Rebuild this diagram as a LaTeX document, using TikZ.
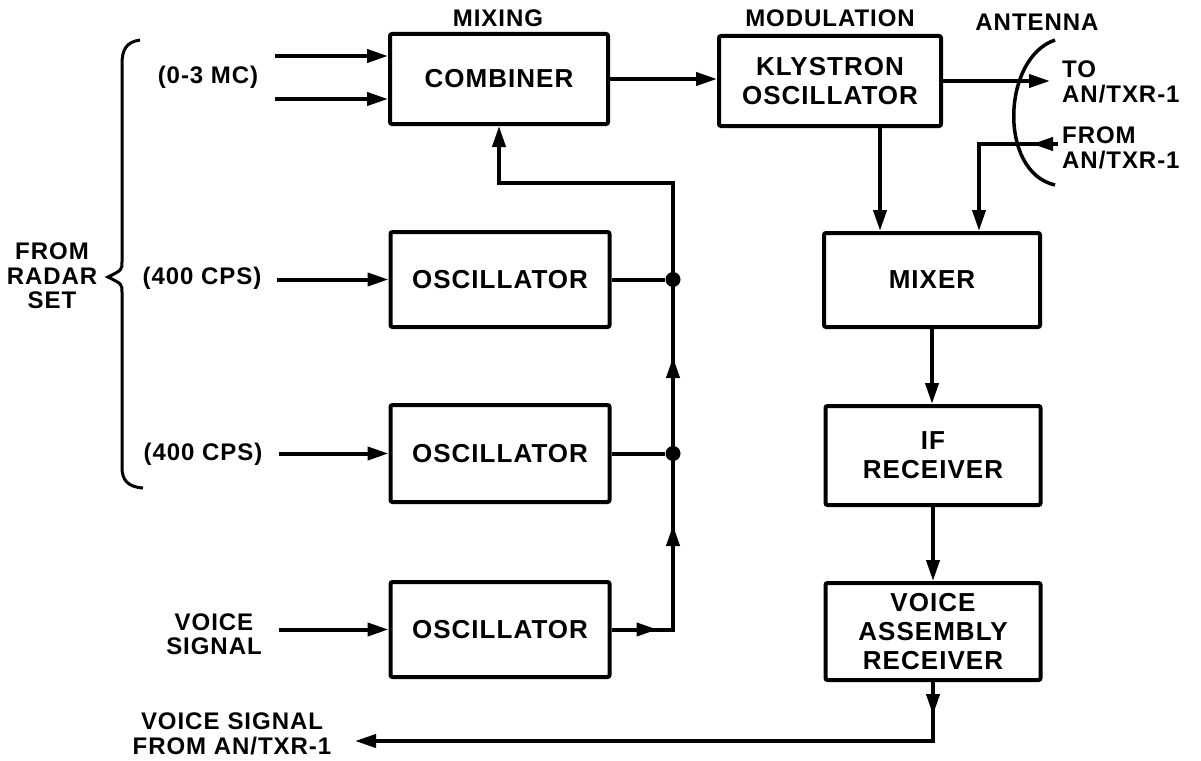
\documentclass[tikz,border=0pt]{standalone}
\usepackage{fontspec}
\setmainfont[LetterSpace=4]{Liberation Sans}
\usetikzlibrary{arrows.meta,decorations.markings}
\tikzset{
  blk/.style={draw, line width=4pt, rounded corners=2pt, inner sep=0pt, align=center,
    font=\bfseries\fontsize{26}{29}\selectfont},
  lbl/.style={inner sep=0pt, align=center, font=\bfseries\fontsize{24}{24.5}\selectfont},
  wire/.style={line width=4pt},
  tip/.style={-{Triangle[length=21pt,width=13pt]}},
  dot/.style={circle, fill, inner sep=0pt, minimum size=15pt},
  mid/.style={postaction={decorate, decoration={markings,
    mark=at position #1 with {\arrow{Triangle[length=21pt,width=13pt]}}}}},
}
\begin{document}
\begin{tikzpicture}[x=1pt,y=-1pt]
\useasboundingbox (0,0) rectangle (1201,760);

% blocks
\node[blk, minimum width=218pt, minimum height=90pt] (comb) at (499,79) {COMBINER};
\node[blk, minimum width=222pt, minimum height=90pt] (kly) at (830,81) {KLYSTRON\\OSCILLATOR};
\node[blk, minimum width=219pt, minimum height=95pt] (osc1) at (500,279.5) {OSCILLATOR};
\node[blk, minimum width=219pt, minimum height=97pt] (osc2) at (500,453.5) {OSCILLATOR};
\node[blk, minimum width=219pt, minimum height=95pt] (osc3) at (500,629.5) {OSCILLATOR};
\node[blk, minimum width=216pt, minimum height=94pt] (mixer) at (932,280) {MIXER};
\node[blk, minimum width=215pt, minimum height=99pt] (ifr) at (933,455.5) {IF\\RECEIVER};
\node[blk, minimum width=215pt, minimum height=97pt] (var) at (933,631.5) {VOICE\\ASSEMBLY\\RECEIVER};

% labels
\node[lbl] (lmix) at (498,18) {MIXING};
\node[lbl] (lmod) at (830,18) {MODULATION};
\node[lbl] (lant) at (1037,22) {ANTENNA};
\node[lbl, anchor=west, align=left] (lto) at (1062,82) {TO\\AN/TXR-1};
\node[lbl, anchor=west, align=left] (lfrom) at (1062,148) {FROM\\AN/TXR-1};
\node[lbl] (l03) at (208,77) {(0-3 MC)};
\node[lbl] (lradar) at (52,276) {FROM\\RADAR\\SET};
\node[lbl] (l400a) at (202,278) {(400 CPS)};
\node[lbl] (l400b) at (203,454) {(400 CPS)};
\node[lbl] (lvoice) at (214,634) {VOICE\\SIGNAL};
\node[lbl] (lvout) at (232,734) {VOICE\,\,SIGNAL\\FROM AN/TXR-1};

% brace
\draw[line width=3pt] (140,40) .. controls (126,42) and (122,50) .. (122,64)
  -- (122,262) .. controls (122,270) .. (108,277) .. controls (122,284) .. (122,292)
  -- (122,468) .. controls (122,480) and (128,487) .. (143,488);

% antenna arc
\draw[line width=3.5pt] (1055,40) .. controls (1002,58) and (998,172) .. (1055,185);

% free ends
\coordinate (in1) at (275,56);
\coordinate (in2) at (275,99);
\coordinate (in3) at (277,279.5);
\coordinate (in4) at (279,453.5);
\coordinate (in5) at (279,629.5);
\coordinate (toant) at (1050,81);
\coordinate (fromin) at (1058,144);
\coordinate (fromc) at (979,144);
\coordinate (b3) at (673,629.5);
\coordinate (bt) at (673,183);
\coordinate (bc) at (933,741);
\coordinate (vsout) at (355,741);

% inputs
\draw[wire,tip] (in1) -- (in1 -| comb.west);
\draw[wire,tip] (in2) -- (in2 -| comb.west);
\draw[wire,tip] (in3) -- (osc1.west);
\draw[wire,tip] (in4) -- (osc2.west);
\draw[wire,tip] (in5) -- (osc3.west);

% combiner -> klystron -> antenna
\draw[wire,tip] (comb.east) -- (comb.east -| kly.west);
\draw[wire,tip] (kly.east) -- (toant);
\draw[wire,tip] ([xshift=50pt]kly.south) -- ([xshift=50pt]kly.south |- mixer.north);
\draw[wire,tip,mid=26pt] (fromin) -- (fromc) -- (fromc |- mixer.north);

% receiver chain
\draw[wire,tip] (mixer.south) -- (mixer.south |- ifr.north);
\draw[wire,tip] (ifr.south) -- (var.north);
\draw[wire,tip,mid=33pt] (var.south) -- (bc) -- (vsout);

% oscillator bus
\node[dot] (d1) at (673,279.5) {};
\node[dot] (d2) at (673,453.5) {};
\draw[wire] (osc1.east) -- (d1);
\draw[wire] (osc2.east) -- (d2);
\draw[wire,tip,mid=46pt,mid=166pt,mid=334pt] (osc3.east) -- (b3) -- (bt) -| (comb.south);
\end{tikzpicture}
\end{document}
